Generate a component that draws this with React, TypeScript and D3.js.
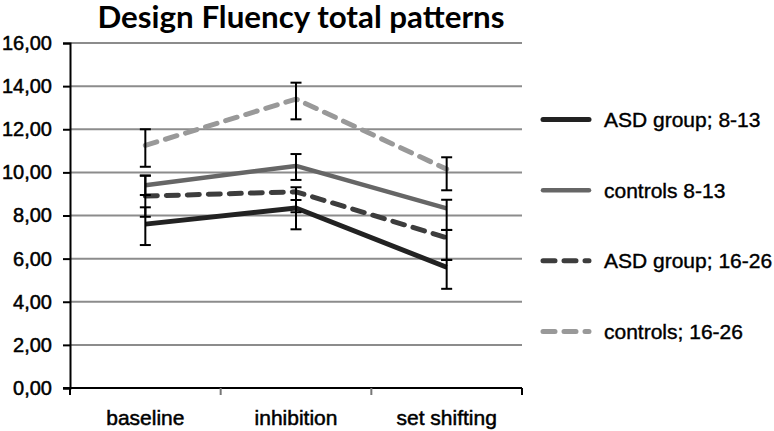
import React, { useRef, useEffect } from 'react';
import * as d3 from 'd3';

/* Design Fluency total patterns — line chart with error bars */

const W = 774;
const H = 431;

const categories = ['baseline', 'inhibition', 'set shifting'];
const yTicks = [0, 2, 4, 6, 8, 10, 12, 14, 16];

const seriesNames = ['ASD group; 8-13', 'controls 8-13', 'ASD group; 16-26', 'controls; 16-26'];

const asdYoung = [7.6, 8.35, 5.6];
const asdYoungLow = [6.63, 7.36, 4.6];
const asdYoungHigh = [8.38, 8.72, 5.94];

const ctrlYoung = [9.4, 10.3, 8.33];
const ctrlYoungLow = [8.95, 9.65, 7.33];
const ctrlYoungHigh = [9.85, 10.85, 8.73];

const asdOld = [8.9, 9.1, 6.97];
const asdOldLow = [7.94, 8.15, 5.94];
const asdOldHigh = [9.85, 9.31, 7.33];

const ctrlOld = [11.25, 13.4, 10.15];
const ctrlOldLow = [10.26, 12.46, 9.17];
const ctrlOldHigh = [12.0, 14.16, 10.7];

const STYLES = [
  { color: '#222222', width: 5, dash: null },
  { color: '#666666', width: 4.5, dash: null },
  { color: '#3d3d3d', width: 5, dash: '12,9' },
  { color: '#999999', width: 5, dash: '12,9' },
];

const FONT = '"Liberation Sans", Arial, sans-serif';

export default function App() {
  const svgRef = useRef<SVGSVGElement>(null);

  useEffect(() => {
    if (!svgRef.current) return;
    const svg = d3.select(svgRef.current);
    svg.selectAll('*').remove();

    const series = [
      { name: seriesNames[0], values: asdYoung, low: asdYoungLow, high: asdYoungHigh },
      { name: seriesNames[1], values: ctrlYoung, low: ctrlYoungLow, high: ctrlYoungHigh },
      { name: seriesNames[2], values: asdOld, low: asdOldLow, high: asdOldHigh },
      { name: seriesNames[3], values: ctrlOld, low: ctrlOldLow, high: ctrlOldHigh },
    ];

    const left = 70, right = 522, top = 43, bottom = 388;
    const x = d3.scaleBand().domain(categories).range([left, right]).padding(0);
    const y = d3.scaleLinear().domain([0, 16]).range([bottom, top]);
    const cx = (c: string) => (x(c) || 0) + x.bandwidth() / 2;

    svg.append('rect').attr('width', W).attr('height', H).attr('fill', '#fff');

    // title
    svg.append('text')
      .attr('x', 301).attr('y', 28)
      .attr('text-anchor', 'middle')
      .attr('textLength', 407).attr('lengthAdjust', 'spacingAndGlyphs')
      .style('font-family', 'Lato, "Open Sans", sans-serif')
      .style('font-weight', 700).style('font-size', '30px')
      .text('Design Fluency total patterns');

    // gridlines
    svg.append('g').selectAll('line').data(yTicks.filter(t => t > 0)).join('line')
      .attr('x1', left).attr('x2', right)
      .attr('y1', d => y(d)).attr('y2', d => y(d))
      .attr('stroke', '#8c8c8c').attr('stroke-width', 2);

    // y axis
    const yAxis = svg.append('g').attr('transform', `translate(${left},0)`)
      .call(d3.axisLeft(y).tickValues(yTicks).tickSize(7).tickPadding(11)
        .tickFormat(d => d3.format('.2f')(d as number).replace('.', ',')));
    yAxis.select('.domain').attr('stroke', '#000').attr('stroke-width', 2);
    yAxis.selectAll('.tick line').attr('stroke', '#000').attr('stroke-width', 2);
    yAxis.selectAll('text')
      .style('font-family', FONT)
      .style('font-size', '20px').attr('fill', '#000')
      .attr('stroke', '#000').attr('stroke-width', 0.5);

    // x axis
    const xAxis = svg.append('g').attr('transform', `translate(0,${bottom})`);
    xAxis.append('line').attr('x1', left - 7).attr('x2', right)
      .attr('stroke', '#000').attr('stroke-width', 2);
    const bounds = [left, ...categories.map(c => (x(c) || 0) + x.bandwidth())];
    xAxis.selectAll('line.tk').data(bounds).join('line')
      .attr('class', 'tk')
      .attr('x1', d => d).attr('x2', d => d).attr('y1', 0).attr('y2', 7)
      .attr('stroke', (d, i) => (i === 0 || i === bounds.length - 1 ? '#000' : '#777'))
      .attr('stroke-width', 2);
    xAxis.selectAll('text').data(categories).join('text')
      .attr('x', d => cx(d)).attr('y', 37)
      .attr('text-anchor', 'middle')
      .style('font-family', FONT)
      .style('font-size', '21px').attr('fill', '#000')
      .attr('stroke', '#000').attr('stroke-width', 0.5)
      .text(d => d);

    // lines
    const line = d3.line<number>()
      .x((_, i) => cx(categories[i]))
      .y(d => y(d));

    series.forEach((s, k) => {
      const st = STYLES[k];
      svg.append('path').datum(s.values)
        .attr('d', line)
        .attr('fill', 'none')
        .attr('stroke', st.color)
        .attr('stroke-width', st.width)
        .attr('stroke-linejoin', 'round')
        .attr('stroke-linecap', st.dash ? 'round' : 'butt')
        .attr('stroke-dasharray', st.dash);
    });

    // error bars
    series.forEach(s => {
      const eg = svg.append('g').attr('stroke', '#000').attr('stroke-width', 2);
      categories.forEach((c, i) => {
        const px = cx(c);
        eg.append('line').attr('x1', px).attr('x2', px)
          .attr('y1', y(s.low[i])).attr('y2', y(s.high[i]));
        [s.low[i], s.high[i]].forEach(v => {
          eg.append('line').attr('x1', px - 5.5).attr('x2', px + 5.5)
            .attr('y1', y(v)).attr('y2', y(v));
        });
      });
    });

    // legend
    const legendY = d3.scalePoint().domain(seriesNames).range([119.5, 331.5]);
    const lg = svg.append('g');
    series.forEach((s, k) => {
      const st = STYLES[k];
      const ly = legendY(s.name) || 0;
      lg.append('line')
        .attr('x1', 543).attr('x2', 589).attr('y1', ly).attr('y2', ly)
        .attr('stroke', st.color).attr('stroke-width', st.width)
        .attr('stroke-linecap', 'round')
        .attr('stroke-dasharray', st.dash);
      lg.append('text')
        .attr('x', 604).attr('y', ly).attr('dy', '0.35em')
        .style('font-family', FONT)
        .style('font-size', '21px').attr('fill', '#000')
        .attr('stroke', '#000').attr('stroke-width', 0.4)
        .text(s.name);
    });
  }, []);

  return (
    <svg ref={svgRef} width={W} height={H}
      style={{ position: 'absolute', left: 0, top: 0, display: 'block' }} />
  );
}
